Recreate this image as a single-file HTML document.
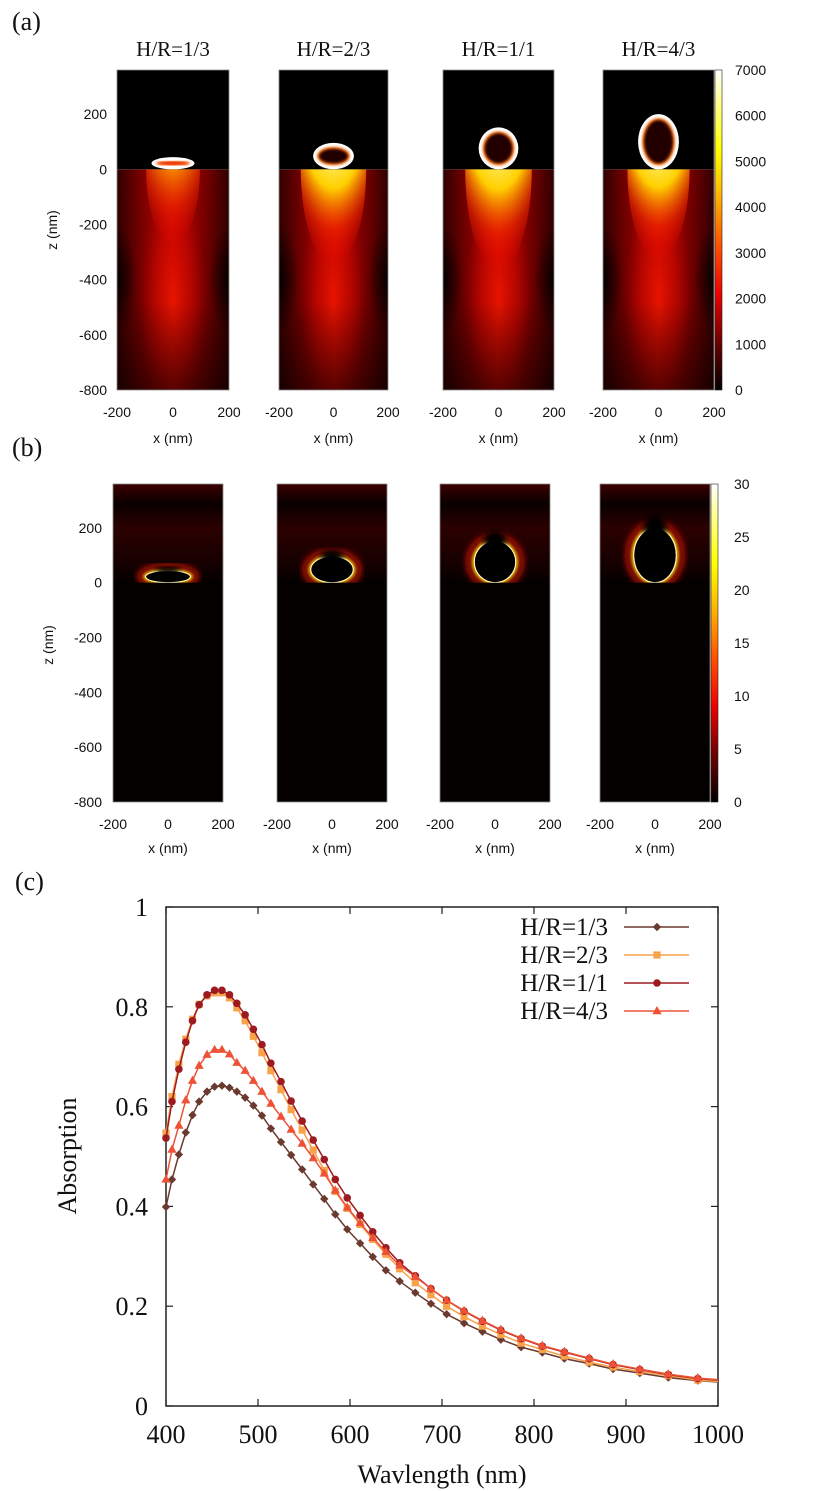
<!DOCTYPE html>
<html><head><meta charset="utf-8">
<style>
html,body{margin:0;padding:0;background:#fff;}
svg{display:block;}
.s{font-family:"Liberation Sans",sans-serif;font-size:14px;fill:#111;}
.r{font-family:"Liberation Serif",serif;fill:#111;}
</style></head>
<body>
<svg id="fig" width="830" height="1491" viewBox="0 0 830 1491" xmlns="http://www.w3.org/2000/svg">
<defs id="defs">
  <linearGradient id="baseA" x1="0" x2="1" y1="0" y2="0">
    <stop offset="0" stop-color="#300000"/><stop offset="0.22" stop-color="#7a0000"/>
    <stop offset="0.5" stop-color="#c00600"/><stop offset="0.78" stop-color="#7a0000"/>
    <stop offset="1" stop-color="#300000"/>
  </linearGradient>
  <linearGradient id="darkBottom" x1="0" x2="0" y1="0" y2="1">
    <stop offset="0" stop-color="#000" stop-opacity="0"/>
    <stop offset="0.6" stop-color="#000" stop-opacity="0.05"/>
    <stop offset="1" stop-color="#000" stop-opacity="0.55"/>
  </linearGradient>
  <radialGradient id="column">
    <stop offset="0" stop-color="#ff1a00" stop-opacity="0.8"/>
    <stop offset="0.6" stop-color="#e00800" stop-opacity="0.45"/>
    <stop offset="1" stop-color="#c00000" stop-opacity="0"/>
  </radialGradient>
  <radialGradient id="sideDark">
    <stop offset="0" stop-color="#000" stop-opacity="0.85"/>
    <stop offset="1" stop-color="#000" stop-opacity="0"/>
  </radialGradient>
  <radialGradient id="plumeW" cx="0.5" cy="0" r="1">
    <stop offset="0" stop-color="#ffffff"/><stop offset="0.35" stop-color="#ffffa0"/>
    <stop offset="0.6" stop-color="#ffd000"/><stop offset="0.82" stop-color="#ff3000" stop-opacity="0.5"/>
    <stop offset="1" stop-color="#ff0000" stop-opacity="0"/>
  </radialGradient>
  <radialGradient id="plumeY" cx="0.5" cy="0" r="1">
    <stop offset="0" stop-color="#ffff80"/><stop offset="0.4" stop-color="#ffc000"/>
    <stop offset="0.75" stop-color="#ff3000" stop-opacity="0.5"/>
    <stop offset="1" stop-color="#ff0000" stop-opacity="0"/>
  </radialGradient>
  <linearGradient id="cbarA" x1="0" x2="0" y1="1" y2="0">
    <stop offset="0" stop-color="#000"/><stop offset="0.14" stop-color="#600"/>
    <stop offset="0.3" stop-color="#e00"/><stop offset="0.45" stop-color="#ff5000"/>
    <stop offset="0.6" stop-color="#ffb000"/><stop offset="0.75" stop-color="#ffff00"/>
    <stop offset="0.9" stop-color="#ffff90"/><stop offset="1" stop-color="#fff"/>
  </linearGradient>
  <linearGradient id="topB" x1="0" x2="0" y1="0" y2="1">
    <stop offset="0" stop-color="#3a0000"/><stop offset="0.2" stop-color="#0a0000"/>
    <stop offset="0.45" stop-color="#2c0000"/><stop offset="0.8" stop-color="#160000"/>
    <stop offset="1" stop-color="#050000"/>
  </linearGradient>
  <filter id="blur1"><feGaussianBlur stdDeviation="1.2"/></filter>
  <filter id="blur3"><feGaussianBlur stdDeviation="3"/></filter>
</defs>

<text class="r" x="12" y="30" font-size="26">(a)</text>
<text class="r" x="12" y="456" font-size="26">(b)</text>
<text class="r" x="15" y="890" font-size="26">(c)</text>

<g id="panelA"></g>
<g id="panelB"></g>
<g id="chartC"></g>
</svg>

<script>
// ===== Absorption chart data =====
const wavelengths = [400,406.5,414,421.5,428.8,436,444.6,452.8,460.8,469,477,486,495,504.3,514,525,536,548,560,572,584,597,611,624.7,639,654,671,688,705,724,744,764,786,809,833,860,886,915,946,978];
const seriesNames = ["H/R=1/3","H/R=2/3","H/R=1/1","H/R=4/3"];
const absHR13 = [0.399,0.454,0.504,0.548,0.583,0.610,0.630,0.640,0.642,0.638,0.630,0.618,0.602,0.582,0.556,0.529,0.503,0.474,0.444,0.415,0.384,0.354,0.326,0.299,0.272,0.250,0.227,0.205,0.184,0.166,0.149,0.133,0.118,0.107,0.095,0.085,0.074,0.066,0.057,0.051];
const absHR23 = [0.547,0.620,0.685,0.735,0.775,0.805,0.822,0.828,0.828,0.818,0.798,0.772,0.741,0.708,0.672,0.634,0.594,0.553,0.513,0.472,0.430,0.396,0.364,0.334,0.304,0.275,0.247,0.223,0.200,0.179,0.160,0.143,0.126,0.113,0.100,0.088,0.078,0.069,0.061,0.052];
const absHR11 = [0.537,0.610,0.675,0.729,0.772,0.804,0.824,0.833,0.833,0.824,0.807,0.784,0.755,0.724,0.687,0.650,0.611,0.571,0.533,0.494,0.454,0.417,0.382,0.349,0.317,0.287,0.261,0.235,0.212,0.190,0.170,0.152,0.135,0.120,0.108,0.095,0.083,0.073,0.063,0.055];
const absHR43 = [0.454,0.514,0.562,0.613,0.652,0.682,0.704,0.714,0.714,0.705,0.688,0.672,0.652,0.630,0.606,0.580,0.554,0.526,0.497,0.466,0.432,0.398,0.367,0.337,0.309,0.282,0.259,0.235,0.212,0.191,0.171,0.153,0.136,0.121,0.109,0.096,0.084,0.074,0.064,0.056];
const xTicks = [400,500,600,700,800,900,1000];
const yTicks = [0,0.2,0.4,0.6,0.8,1];
const yTickLabels = ["0","0.2","0.4","0.6","0.8","1"];

// ===== Map panel data =====
const mapTitles = ["H/R=1/3","H/R=2/3","H/R=1/1","H/R=4/3"];
const zTicks = [200,0,-200,-400,-600,-800];
const xMapTicks = [-200,0,200];
const cbarATicks = [0,1000,2000,3000,4000,5000,6000,7000];
const cbarBTicks = [0,5,10,15,20,25,30];
const particleRx = [78,74,72,74];   // nm half-width
const particleRy = [22,48,76,100];  // nm half-height

const NS = "http://www.w3.org/2000/svg";
function mk(tag, attrs, parent){ const e=document.createElementNS(NS,tag); for(const k in attrs) e.setAttribute(k,attrs[k]); if(parent) parent.appendChild(e); return e; }
const defs = document.getElementById('defs');
function clip(id,x,y,w,h){ const c=mk('clipPath',{id:id},defs); mk('rect',{x:x,y:y,width:w,height:h},c); return 'url(#'+id+')'; }

// ---------- Panel A ----------
(function(){
  const g = document.getElementById('panelA');
  const xs = [[117,229],[279,388],[443,554],[603,714]];
  const top=70, bot=390;
  const zScale = (bot-top)/1160;
  const zy = z => top + (360 - z)*zScale;
  const y0 = zy(0);
  xs.forEach((p,i)=>{
    const [x0,x1]=p, w=x1-x0, cx=(x0+x1)/2;
    const xs2 = v => x0 + (v+200)/400*w;
    const pg = mk('g',{'clip-path':clip('ca'+i,x0,top,w,bot-top)},g);
    
    
    const lower = mk('g',{'clip-path':clip('cal'+i,x0,y0,w,bot-y0)},pg);
    mk('rect',{x:x0,y:top,width:w,height:y0-top,fill:'#000'},pg);
    mk('rect',{x:x0,y:y0,width:w,height:bot-y0,fill:'url(#baseA)'},lower);
    mk('ellipse',{cx:cx,cy:(y0+bot)/2+20,rx:w*0.3,ry:(bot-y0)*0.55,fill:'url(#column)'},lower);
    mk('ellipse',{cx:x0,cy:zy(-400),rx:w*0.18,ry:55,fill:'url(#sideDark)'},lower);
    mk('ellipse',{cx:x1,cy:zy(-400),rx:w*0.18,ry:55,fill:'url(#sideDark)'},lower);
    mk('rect',{x:x0,y:y0,width:w,height:bot-y0,fill:'url(#darkBottom)'},lower);
    const pr = [0.24,0.3,0.3,0.28][i], ph=[75,95,100,90][i];
    mk('ellipse',{cx:cx,cy:y0,rx:w*pr,ry:ph,fill: i===0?'url(#plumeY)':'url(#plumeW)'},lower);
    const rx = particleRx[i]*zScale, ry=particleRy[i]*zScale;
    const cyp = y0 - ry;
    mk('ellipse',{cx:cx,cy:cyp,rx:rx,ry:ry,fill:'#fff'},pg);
    mk('ellipse',{cx:cx,cy:cyp,rx:rx-4,ry:Math.max(ry-4,2),fill:'#ff6a00',filter:'url(#blur1)'},pg);
    mk('ellipse',{cx:cx,cy:cyp,rx:rx-6,ry:Math.max(ry-6,1.5),fill: i===0?'#e82000':'#200000',filter:'url(#blur1)'},pg);
    mk('rect',{x:x0,y:top,width:w,height:bot-top,fill:'none',stroke:'#888','stroke-width':0.8},g);
    const t = mk('text',{x:cx,y:56,'text-anchor':'middle','font-size':21,class:'r'},g);
    t.textContent = mapTitles[i];
    
    
    xMapTicks.forEach(v=>{
      const tt = mk('text',{x:xs2(v),y:417,'text-anchor':'middle',class:'s'},g);
      tt.textContent = v;
      
      
    });
    const xl = mk('text',{x:cx,y:443,'text-anchor':'middle',class:'s'},g);
    xl.textContent='x (nm)';
    
    
  });
  zTicks.forEach(v=>{
    const t = mk('text',{x:107,y:zy(v)+5,'text-anchor':'end',class:'s'},g);
    t.textContent=v;
    
    
  });
  const zl = mk('text',{x:57,y:230,'text-anchor':'middle',class:'s',transform:'rotate(-90 57 230)'},g);
  zl.textContent='z (nm)';
  
  
  const cb = mk('rect',{x:715,y:top,width:7,height:bot-top,fill:'url(#cbarA)',stroke:'#222','stroke-width':0.6},g);
  
  
  cbarATicks.forEach(v=>{
    const y = bot - v/7000*(bot-top);
    const t = mk('text',{x:735,y:y+5,class:'s'},g);
    t.textContent=v;
    
    
  });
})();

// ---------- Panel B ----------
(function(){
  const g = document.getElementById('panelB');
  const xs = [[113,223],[277,387],[440,550],[600,710]];
  const top=484, bot=802;
  const zScale = (bot-top)/1160;
  const zy = z => top + (360 - z)*zScale;
  const y0 = zy(0);
  xs.forEach((p,i)=>{
    const [x0,x1]=p, w=x1-x0, cx=(x0+x1)/2;
    const xs2 = v => x0 + (v+200)/400*w;
    const pg = mk('g',{'clip-path':clip('cb'+i,x0,top,w,bot-top)},g);
    
    
    mk('rect',{x:x0,y:top,width:w,height:bot-top,fill:'#040000'},pg);
    mk('rect',{x:x0,y:top,width:w,height:y0-top,fill:'url(#topB)'},pg);
    const rx = particleRx[i]*zScale*1.05, ry=particleRy[i]*zScale;
    const cyp = y0 - ry;
    mk('ellipse',{cx:cx,cy:cyp,rx:rx+6,ry:ry+5,fill:'none',stroke:'#a01000','stroke-width':6,filter:'url(#blur3)'},pg);
    mk('ellipse',{cx:cx,cy:cyp,rx:rx+1,ry:ry+0.5,fill:'none',stroke:'#ffb000','stroke-width':3,filter:'url(#blur1)'},pg);
    mk('ellipse',{cx:cx,cy:cyp,rx:rx,ry:ry,fill:'none',stroke:'#ffffc0','stroke-width':1.2},pg);
    mk('ellipse',{cx:cx,cy:cyp,rx:rx-0.6,ry:Math.max(ry-0.6,1),fill:'#000'},pg);
    mk('ellipse',{cx:cx,cy:cyp-ry,rx:rx*0.55,ry:Math.max(ry*0.5,4),fill:'#000',filter:'url(#blur3)'},pg);
    mk('rect',{x:x0,y:y0,width:w,height:bot-y0,fill:'#050000'},pg);
    mk('rect',{x:x0,y:top,width:w,height:bot-top,fill:'none',stroke:'#888','stroke-width':0.8},g);
    xMapTicks.forEach(v=>{
      const tt = mk('text',{x:xs2(v),y:829,'text-anchor':'middle',class:'s'},g);
      tt.textContent = v;
      
      
    });
    const xl = mk('text',{x:cx,y:853,'text-anchor':'middle',class:'s'},g);
    xl.textContent='x (nm)';
    
    
  });
  zTicks.forEach(v=>{
    const t = mk('text',{x:102,y:zy(v)+5,'text-anchor':'end',class:'s'},g);
    t.textContent=v;
    
    
  });
  const zl = mk('text',{x:53,y:645,'text-anchor':'middle',class:'s',transform:'rotate(-90 53 645)'},g);
  zl.textContent='z (nm)';
  
  
  const cb = mk('rect',{x:711,y:top,width:7,height:bot-top,fill:'url(#cbarA)',stroke:'#222','stroke-width':0.6},g);
  
  
  cbarBTicks.forEach(v=>{
    const y = bot - v/30*(bot-top);
    const t = mk('text',{x:734,y:y+5,class:'s'},g);
    t.textContent=v;
    
    
  });
})();

// ---------- Panel C ----------
(function(){
  const g = document.getElementById('chartC');
  const L=166, R=718, T=907, B=1406;
  const X = v => L + (v-400)/600*(R-L);
  const Y = v => B - v*(B-T);
  const frame = mk('rect',{x:L,y:T,width:R-L,height:B-T,fill:'none',stroke:'#222','stroke-width':1.5},g);
  
  
  xTicks.forEach(v=>{
    mk('line',{x1:X(v),x2:X(v),y1:B,y2:B-7,stroke:'#222','stroke-width':1.2},g);
    mk('line',{x1:X(v),x2:X(v),y1:T,y2:T+7,stroke:'#222','stroke-width':1.2},g);
    const t=mk('text',{x:X(v),y:1443,'text-anchor':'middle','font-size':26,class:'r'},g);
    t.textContent=v;
    
    
  });
  yTicks.forEach((v,i)=>{
    mk('line',{x1:L,x2:L+7,y1:Y(v),y2:Y(v),stroke:'#222','stroke-width':1.2},g);
    mk('line',{x1:R,x2:R-7,y1:Y(v),y2:Y(v),stroke:'#222','stroke-width':1.2},g);
    const t=mk('text',{x:148,y:Y(v)+9,'text-anchor':'end','font-size':26,class:'r'},g);
    t.textContent=yTickLabels[i];
    
    
  });
  const xt=mk('text',{x:442,y:1483,'text-anchor':'middle','font-size':26,class:'r'},g);
  xt.textContent='Wavlength (nm)';
  
  
  const yt=mk('text',{x:76,y:1156,'text-anchor':'middle','font-size':26,class:'r',transform:'rotate(-90 76 1156)'},g);
  yt.textContent='Absorption';
  
  

  const colors=['#6a3a30','#f8a24a','#9c1a20','#ee5236'];
  const shapes=['diamond','square','circle','triangle'];
  const all=[absHR13,absHR23,absHR11,absHR43];
  function marker(par,shape,x,y,c){
    if(shape==='diamond') return mk('polygon',{points:`${x},${y-4.2} ${x+4.2},${y} ${x},${y+4.2} ${x-4.2},${y}`,fill:c},par);
    if(shape==='square') return mk('rect',{x:x-3.6,y:y-3.6,width:7.2,height:7.2,fill:c},par);
    if(shape==='circle') return mk('circle',{cx:x,cy:y,r:3.8,fill:c},par);
    return mk('polygon',{points:`${x},${y-5} ${x+4.6},${y+3.2} ${x-4.6},${y+3.2}`,fill:c},par);
  }
  all.forEach((vals,si)=>{
    const sg=mk('g',{},g);
    
    
    let d='';
    vals.forEach((v,i)=>{ d += (i?'L':'M')+X(wavelengths[i]).toFixed(1)+','+Y(v).toFixed(1); });
    d += 'L'+X(1000)+','+Y(vals[vals.length-1]-0.003).toFixed(1);
    mk('path',{d:d,fill:'none',stroke:colors[si],'stroke-width':1.5},sg);
    vals.forEach((v,i)=>{
      const m = marker(sg,shapes[si],X(wavelengths[i]),Y(v),colors[si]);
      
      
    });
  });
  const lg=mk('g',{},g);
  
  
  const ly=[927,955,983,1011];
  seriesNames.forEach((n,i)=>{
    const eg=mk('g',{},lg);
    
    
    const t=mk('text',{x:608,y:ly[i]+8,'text-anchor':'end','font-size':25,class:'r'},eg);
    t.textContent=n;
    mk('line',{x1:624,x2:689,y1:ly[i],y2:ly[i],stroke:colors[i],'stroke-width':1.5},eg);
    marker(eg,shapes[i],657,ly[i],colors[i]);
  });
})();
</script>
</body></html>
